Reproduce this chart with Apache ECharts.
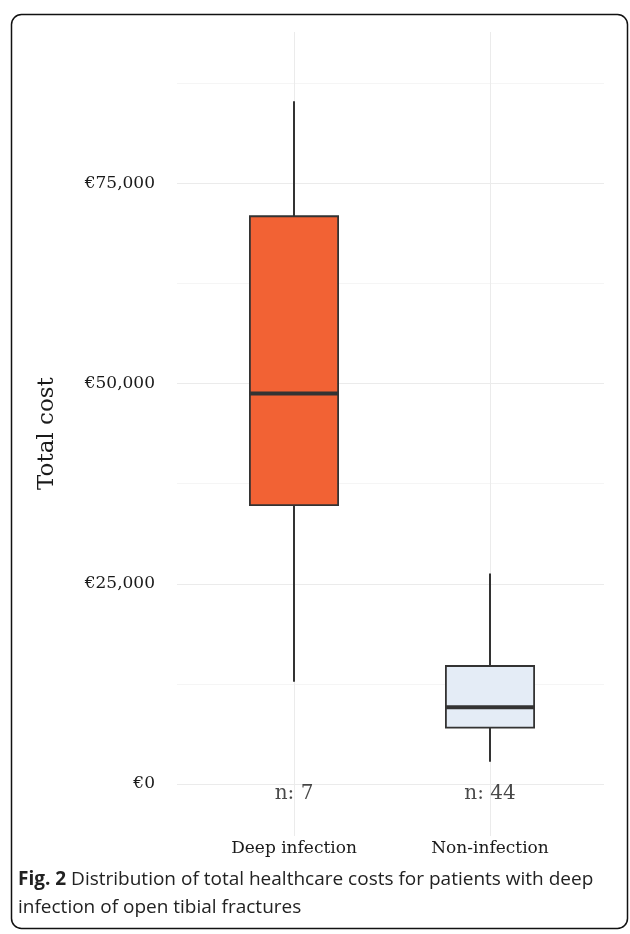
<!DOCTYPE html>
<html>
<head>
<meta charset="utf-8">
<script src="https://cdn.jsdelivr.net/npm/echarts@6/dist/echarts.min.js"></script>
<style>
  html, body { margin: 0; padding: 0; background: #ffffff; }
  #chart { width: 630px; height: 934px; }
</style>
</head>
<body>
<div id="chart"></div>
<script>
// ---- data ----
const categories = ['Deep infection', 'Non-infection'];
const whiskerLow = [12770, 2780];
const q1 = [34820, 7030];
const median = [48760, 9570];
const q3 = [70890, 14730];
const whiskerHigh = [85250, 26280];
const counts = [7, 44];
const yTicks = [0, 25000, 50000, 75000];
const yTickLabels = ['€0', '€25,000', '€50,000', '€75,000'];
const boxColors = ['#F26234', '#E4ECF6'];

const serif = '"DejaVu Serif", Georgia, serif';
const chart = echarts.init(document.getElementById('chart'), null, { renderer: 'canvas' });

const boxData = categories.map((c, i) => [i, whiskerLow[i], q1[i], median[i], q3[i], whiskerHigh[i]]);

const option = {
  backgroundColor: '#ffffff',
  animation: false,
  grid: [
    { left: 196, right: 42, top: 32, bottom: 98, containLabel: false },
    { left: 177, right: 26, top: 83.25, bottom: 150.05, containLabel: false }
  ],
  xAxis: [
    {
      type: 'category', gridIndex: 0, data: categories,
      axisLine: { show: false }, axisTick: { show: false },
      splitLine: { show: true, alignWithLabel: true, lineStyle: { color: '#ebebeb', width: 1 } },
      axisLabel: { color: '#1a1a1a', fontFamily: serif, fontSize: 17, margin: 4 }
    },
    { type: 'value', gridIndex: 1, show: false, min: 0, max: 1 }
  ],
  yAxis: [
    { type: 'value', gridIndex: 0, min: -6500, max: 93900, show: false, splitLine: { show: false } },
    {
      type: 'value', gridIndex: 1, min: 0, max: 87500, interval: 12500,
      axisLine: { show: false }, axisTick: { show: false },
      splitLine: { show: true, lineStyle: { color: ['#ebebeb', '#f5f5f5'], width: 1 } },
      axisLabel: {
        color: '#1a1a1a', fontFamily: serif, fontSize: 17, margin: 22,
        formatter: function (v) { const k = yTicks.indexOf(v); return k >= 0 ? yTickLabels[k] : ''; }
      },
      name: 'Total cost', nameLocation: 'middle', nameGap: 118,
      nameTextStyle: { color: '#1a1a1a', fontFamily: serif, fontSize: 23 }
    }
  ],
  series: [
    {
      type: 'custom', xAxisIndex: 0, yAxisIndex: 0, z: 5,
      data: boxData,
      renderItem: function (params, api) {
        const x = api.value(0);
        const pLo = api.coord([x, api.value(1)]);
        const pQ1 = api.coord([x, api.value(2)]);
        const pMed = api.coord([x, api.value(3)]);
        const pQ3 = api.coord([x, api.value(4)]);
        const pHi = api.coord([x, api.value(5)]);
        const bw = api.size([1, 0])[0] * 0.45;
        const cx = pMed[0];
        const stroke = '#333333';
        return {
          type: 'group',
          children: [
            { type: 'line', shape: { x1: cx, y1: pHi[1], x2: cx, y2: pQ3[1] }, style: { stroke: stroke, lineWidth: 2 } },
            { type: 'line', shape: { x1: cx, y1: pQ1[1], x2: cx, y2: pLo[1] }, style: { stroke: stroke, lineWidth: 2 } },
            { type: 'rect', shape: { x: cx - bw / 2, y: pQ3[1], width: bw, height: pQ1[1] - pQ3[1] },
              style: { fill: boxColors[params.dataIndex], stroke: stroke, lineWidth: 1.8 } },
            { type: 'line', shape: { x1: cx - bw / 2, y1: pMed[1], x2: cx + bw / 2, y2: pMed[1] },
              style: { stroke: stroke, lineWidth: 4 } }
          ]
        };
      }
    },
    {
      type: 'scatter', xAxisIndex: 0, yAxisIndex: 0, z: 6,
      symbolSize: 0, silent: true,
      data: categories.map((c, i) => [i, 0]),
      label: {
        show: true, position: 'bottom', distance: 0,
        color: '#1a1a1a', fontFamily: serif, fontSize: 20,
        formatter: function (p) { return 'n: ' + counts[p.dataIndex]; }
      }
    }
  ],
  graphic: [
    {
      type: 'rect', left: 9, top: 12, z: 100, silent: true,
      shape: { width: 616, height: 914, r: 10 },
      style: { fill: 'none', stroke: '#111', lineWidth: 1.5 }
    },
    {
      type: 'text', left: 18, top: 866, z: 100,
      style: {
        text: '{b|Fig. 2} Distribution of total healthcare costs for patients with deep\ninfection of open tibial fractures',
        font: '19px "Open Sans", sans-serif', fill: '#222', lineHeight: 28,
        rich: { b: { fontWeight: 'bold', fontFamily: '"Open Sans", sans-serif', fontSize: 19, fill: '#222' } }
      }
    }
  ]
};
chart.setOption(option);
</script>
</body>
</html>
